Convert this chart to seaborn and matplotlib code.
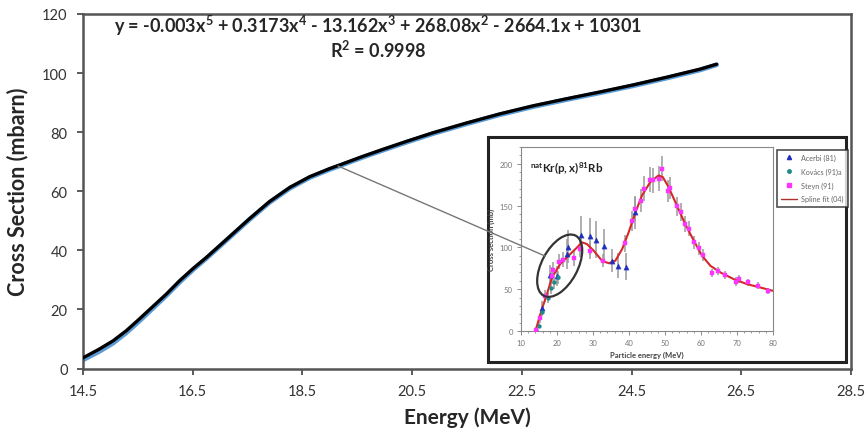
import numpy as np
import pandas as pd
import matplotlib
matplotlib.use("Agg")
import matplotlib.pyplot as plt
import seaborn as sns
from matplotlib.patches import Rectangle, Ellipse
from matplotlib.lines import Line2D

# ---------------- data ----------------
# main curve (data) and fitted trendline
energy_main = [14.5, 14.80, 15.05, 15.29, 15.53, 15.78, 16.02, 16.26, 16.51, 16.75, 16.99,
               17.23, 17.54, 17.90, 18.27, 18.63, 19.0, 19.18, 19.60, 19.97, 20.40,
               20.88, 21.49, 22.10, 22.70, 23.31, 23.92, 24.53, 25.14, 25.74, 26.05]
xs_main = [3.6, 6.6, 9.4, 12.8, 16.8, 21.1, 25.2, 29.7, 33.9, 37.6, 41.6,
           45.6, 50.8, 56.5, 61.3, 64.9, 67.7, 68.9, 71.8, 74.2, 76.9,
           79.8, 83.1, 86.2, 88.9, 91.3, 93.6, 96.0, 98.6, 101.3, 103.0]
xs_fit = [2.9, 5.8, 8.6, 12.1, 16.1, 20.5, 24.7, 29.2, 33.5, 37.3, 41.3,
          45.3, 50.5, 56.2, 61.0, 64.6, 67.4, 68.6, 71.5, 73.9, 76.6,
          79.5, 82.8, 85.9, 88.6, 91.0, 93.3, 95.7, 98.3, 101.0, 102.8]

x_ticks_main = [14.5, 16.5, 18.5, 20.5, 22.5, 24.5, 26.5, 28.5]
y_ticks_main = [0, 20, 40, 60, 80, 100, 120]

# inset: natKr(p,x)81Rb
steyn_e = [14.3, 15.3, 16.8, 18.5, 18.8, 20.6, 21.8, 24.8, 26.5, 29.2, 32.9, 38.9, 40.8, 41.8,
           43.4, 44.1, 45.7, 46.7, 48.2, 49.2, 50.8, 51.5, 53.3, 54.5, 55.6, 56.8, 58.0,
           59.4, 60.6, 63.1, 64.6, 66.6, 69.8, 70.5, 73.0, 75.7, 78.5]
steyn_v = [1, 15, 42, 66, 73, 83, 85, 87, 98, 96, 84, 105, 132, 146,
           156, 170, 181, 180, 182, 194, 167, 171, 149, 142, 128, 122, 106,
           99, 91, 69, 72, 67, 59, 62, 58, 54, 48]
steyn_err = [3, 5, 7, 10, 10, 9, 9, 9, 10, 10, 8, 10, 12, 14,
             14, 15, 15, 15, 15, 15, 13, 13, 11, 11, 10, 9, 8,
             8, 7, 5, 5, 5, 5, 5, 4, 4, 4]

acerbi_e = [15.7, 18.1, 19.9, 22.7, 23.1, 26.8, 29.2, 30.9, 33.1, 35.3, 36.9, 39.2, 41.8]
acerbi_v = [28, 67, 66, 92, 101, 115, 113, 109, 102, 84, 78, 77, 142]
acerbi_err = [8, 12, 12, 18, 20, 22, 22, 22, 20, 14, 15, 16, 20]

kovacs_e = [14.1, 15.0, 15.8, 17.4, 18.2, 19.2, 20.2]
kovacs_v = [1, 6, 23, 40, 52, 58, 64]
kovacs_err = [2, 3, 5, 6, 8, 8, 8]

spline_e = [14, 15.8, 17.2, 18.6, 20.9, 23.2, 25.6, 26.9, 28.3, 30.2, 32.5, 34.4, 36.2, 38.1,
            39.9, 41.8, 43.6, 45.9, 48.2, 49.4, 51.0, 53.3, 55.6, 58.0, 60.3, 62.6, 65.4,
            69.1, 72.8, 76.5, 80.0]
spline_v = [0, 26, 44, 64, 80, 90, 100, 106, 104, 96, 84, 81, 84, 98,
            118, 142, 162, 178, 186, 184, 172, 150, 128, 108, 90, 78, 70,
            62, 56, 52, 48]

inset_xticks = [10, 20, 30, 40, 50, 60, 70, 80]
inset_yticks = [0, 50, 100, 150, 200]

# ---------------- style ----------------
sns.set_style("white")
plt.rcParams['font.family'] = ['Lato', 'DejaVu Sans']
plt.rcParams['mathtext.fontset'] = 'custom'
plt.rcParams['mathtext.rm'] = 'Lato:bold'
plt.rcParams['mathtext.bf'] = 'Lato:bold'
plt.rcParams['mathtext.default'] = 'rm'

W, H = 867, 431
fig = plt.figure(figsize=(W / 100, H / 100), dpi=100)


def fx(px):
    return px / W


def fy(py):
    return 1 - py / H


# ---------------- main axes ----------------
ax = fig.add_axes([fx(83), fy(369.5), fx(851) - fx(83), fy(15) - fy(369.5)])
ax.set_zorder(1)
df_main = pd.DataFrame({"Energy": energy_main, "data": xs_main, "fit": xs_fit})
sns.lineplot(data=df_main, x="Energy", y="fit", ax=ax, color="#5b9bd5", lw=3.4, zorder=2)
sns.lineplot(data=df_main, x="Energy", y="data", ax=ax, color="black", lw=2.4, zorder=3)
ax.set_xlim(14.5, 28.5)
ax.set_ylim(0, 120)
ax.set_xticks(x_ticks_main)
ax.set_xticklabels([f"{v:.1f}" for v in x_ticks_main])
ax.set_yticks(y_ticks_main)
ax.tick_params(axis='both', labelsize=10.5, colors="#404040", length=4, width=1.2,
               direction='out', bottom=True, left=True, pad=7)
for lab in ax.get_xticklabels() + ax.get_yticklabels():
    lab.set_color("#333333")
for s in ax.spines.values():
    s.set_color("#555555")
    s.set_linewidth(1.8)
ax.set_xlabel("Energy (MeV)", fontsize=15, fontweight='bold', labelpad=6)
ax.set_ylabel("Cross Section (mbarn)", fontsize=15.5, fontweight='bold', labelpad=10)

fig.text(fx(378), fy(26), r"y = -0.003x$^{5}$ + 0.3173x$^{4}$ - 13.162x$^{3}$ + 268.08x$^{2}$ - 2664.1x + 10301",
         ha='center', va='center', fontsize=13, fontweight='bold', zorder=5)
fig.text(fx(378), fy(50), r"R$^{2}$ = 0.9998", ha='center', va='center', fontsize=13,
         fontweight='bold', zorder=5)

# ---------------- inset frame ----------------
frame = Rectangle((fx(488), fy(363)), fx(846) - fx(488), fy(138) - fy(363),
                  transform=fig.transFigure, facecolor='white', edgecolor='#222222',
                  lw=2.2, zorder=2)
fig.add_artist(frame)

# ---------------- inset axes ----------------
ax2 = fig.add_axes([fx(521), fy(332), fx(773) - fx(521), fy(148) - fy(332)])
ax2.set_zorder(3)
ax2.errorbar(steyn_e, steyn_v, yerr=steyn_err, fmt='none', ecolor='#9a9a9a', elinewidth=1.1, zorder=1)
ax2.errorbar(acerbi_e, acerbi_v, yerr=acerbi_err, fmt='none', ecolor='#9a9a9a', elinewidth=1.1, zorder=1)
ax2.errorbar(kovacs_e, kovacs_v, yerr=kovacs_err, fmt='none', ecolor='#9a9a9a', elinewidth=1.1, zorder=1)
df_sp = pd.DataFrame({"e": spline_e, "v": spline_v})
sns.lineplot(data=df_sp, x="e", y="v", ax=ax2, color="#d62828", lw=1.5, zorder=2,
             label="Spline fit (04)", legend=False)
sns.scatterplot(x=acerbi_e, y=acerbi_v, ax=ax2, marker='^', color="#1f2fbf", s=14,
                edgecolor="#1f2fbf", zorder=3, label="Acerbi (81)", legend=False)
sns.scatterplot(x=kovacs_e, y=kovacs_v, ax=ax2, marker='o', color="#1b8a8a", s=8,
                edgecolor="#1b8a8a", zorder=3, label="Kovács (91)a", legend=False)
sns.scatterplot(x=steyn_e, y=steyn_v, ax=ax2, marker='s', color="#ff33ff", s=12,
                edgecolor="#ff33ff", zorder=4, label="Steyn (91)", legend=False)
ax2.set_xlim(10, 80)
ax2.set_ylim(0, 220)
ax2.set_xticks(inset_xticks)
ax2.set_yticks(inset_yticks)
ax2.set_xticks(np.arange(10, 81, 2), minor=True)
ax2.set_yticks(np.arange(0, 221, 10), minor=True)
ax2.tick_params(axis='both', which='major', labelsize=5.5, colors="#777777", length=3, width=0.6,
                direction='out', bottom=True, left=True, pad=3)
ax2.tick_params(axis='both', which='minor', length=1.5, width=0.5, colors="#777777",
                direction='out', bottom=True, left=True)
for s in ax2.spines.values():
    s.set_color("#888888")
    s.set_linewidth(0.8)
ax2.set_xlabel("Particle energy (MeV)", fontsize=5.5, fontweight='bold', color="#444444", labelpad=3)
ax2.set_ylabel("Cross section (mb)", fontsize=5.5, fontweight='bold', color="#444444", labelpad=3)
ax2.text(0.035, 0.93, r"$\mathbf{^{nat}Kr(p,x)^{81}Rb}$", transform=ax2.transAxes,
         fontsize=8.3, ha='left', va='top', color="#222222")

handles = [
    Line2D([], [], marker='^', color="#1f2fbf", ls='none', markersize=3),
    Line2D([], [], marker='o', color="#1b8a8a", ls='none', markersize=2.5),
    Line2D([], [], marker='s', color="#ff33ff", ls='none', markersize=3),
    Line2D([], [], color="#b03030", lw=1.0),
]
labels = ["Acerbi (81)", "Kovács (91)a", "Steyn (91)", "Spline fit (04)"]
leg = fig.legend(handles, labels, loc='upper left', bbox_to_anchor=(fx(773), fy(147)),
                 bbox_transform=fig.transFigure, fontsize=5.2, frameon=True, fancybox=False,
                 shadow=False, handlelength=2.2, labelspacing=0.9, borderpad=0.6,
                 handletextpad=0.6, labelcolor="#666666")
leg.get_frame().set_edgecolor("#222222")
leg.get_frame().set_linewidth(1.2)
leg.set_zorder(6)

# ---------------- ellipse and pointer line ----------------
ell = Ellipse((5.597, (H - 266.7) / 100), width=0.68, height=0.36, angle=62,
              transform=fig.dpi_scale_trans, fill=False, edgecolor="#333333", lw=1.6, zorder=7)
fig.add_artist(ell)
ptr = Line2D([fx(338), fx(545)], [fy(167), fy(257)], transform=fig.transFigure,
             color="#777777", lw=1.0, zorder=7)
fig.add_artist(ptr)

fig.savefig("out.png", dpi=100)
